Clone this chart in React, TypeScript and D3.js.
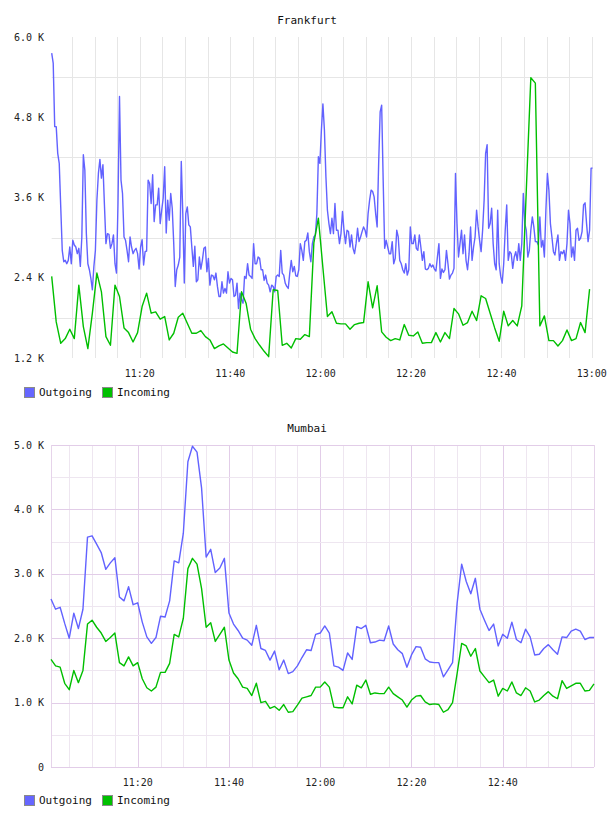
import React from 'react';
import * as d3 from 'd3';

const W = 608;
const H = 816;

const day = (h: number, m: number, s = 0) => new Date(2000, 0, 1, h, m, s);

// Frankfurt traffic, thousands. Outgoing sampled every 20 s, incoming every 60 s
const frankfurtStart = day(11, 0, 30);
const frankfurtEnd = day(13, 0, 10);
const frankfurtOutgoing = [
  5.76, 5.61, 4.66, 4.66, 4.26, 4.11, 3.46, 2.81, 2.64, 2.66,
  2.61, 2.66, 2.86, 2.61, 2.96, 2.89, 2.86, 2.76, 2.84, 2.57,
  3.01, 4.24, 4.01, 3.06, 2.61, 2.52, 2.39, 2.22, 2.57, 2.81,
  3.56, 3.96, 4.17, 3.89, 4.09, 3.49, 2.91, 3.06, 3.05, 2.84,
  2.91, 3.04, 2.61, 2.47, 3.51, 5.11, 3.86, 3.66, 3.01, 2.96,
  2.81, 2.64, 3.01, 2.86, 2.76, 2.81, 2.84, 2.76, 2.53, 2.86,
  2.97, 2.59, 2.79, 2.80, 3.86, 3.81, 3.51, 3.94, 3.24, 3.49,
  3.49, 3.74, 3.21, 3.41, 3.59, 4.06, 3.07, 3.56, 3.26, 3.66,
  3.44, 2.91, 2.27, 2.52, 2.59, 2.71, 4.14, 3.36, 2.32, 3.36,
  3.46, 3.19, 3.16, 2.86, 2.57, 2.87, 2.34, 2.37, 2.71, 2.53,
  2.66, 2.84, 2.86, 2.49, 2.69, 2.29, 2.44, 2.43, 2.37, 2.47,
  2.27, 2.12, 2.12, 2.34, 2.17, 2.24, 2.17, 2.49, 2.32, 2.39,
  2.37, 2.12, 2.14, 2.32, 1.94, 2.17, 2.07, 2.02, 2.42, 2.39,
  2.61, 2.44, 2.42, 2.39, 2.91, 2.61, 2.61, 2.71, 2.69, 2.52,
  2.52, 2.36, 2.44, 2.32, 2.29, 2.19, 2.29, 2.27, 2.19, 2.42,
  2.44, 2.42, 2.81, 2.47, 2.44, 2.32, 2.27, 2.24, 2.47, 2.66,
  2.49, 2.57, 2.43, 2.42, 2.52, 2.91, 2.81, 2.66, 2.94, 2.96,
  3.07, 2.79, 2.64, 2.91, 3.01, 3.04, 3.36, 4.21, 4.11, 4.61,
  5.00, 4.61, 3.91,
  3.41, 3.21, 3.06, 3.29, 3.06, 3.51, 3.11, 3.11, 2.91, 3.06,
  3.39, 3.11, 2.91, 3.11, 3.09, 2.86, 3.04, 2.84, 2.76, 2.91,
  3.14, 2.94, 3.01, 3.09, 3.16, 3.11, 3.01, 3.36, 3.56, 3.71,
  3.69, 3.61, 3.36, 3.16, 4.11, 4.88, 4.98, 3.86, 2.84, 2.96,
  2.86, 2.76, 2.76, 2.94, 2.61, 2.69, 3.11, 3.01, 2.66, 2.61,
  2.52, 2.47, 2.61, 2.44, 2.52, 3.16, 2.91, 2.91, 3.04, 2.84,
  2.81, 3.04, 2.86, 2.66, 2.79, 2.53, 2.52, 2.54, 2.61, 2.56,
  2.59, 2.53, 2.50, 2.71, 2.91, 2.39, 2.53, 2.48, 2.52, 2.81,
  2.61, 2.38, 2.44, 2.47, 2.54, 3.96, 3.21, 2.71, 2.91, 3.11,
  2.76, 3.04, 2.66, 2.52, 2.76, 3.16, 2.66, 2.86, 3.01, 3.41,
  3.16, 2.96, 2.79, 3.11, 3.56, 4.26, 4.39, 3.14, 3.21, 3.44,
  2.91, 2.61, 2.52, 3.41, 2.61, 2.42, 2.32, 2.61, 3.11, 3.49,
  2.66, 2.79, 2.76, 2.54, 2.71, 2.79, 2.66, 2.91, 2.66, 2.91,
  3.66, 3.21, 3.11, 2.71, 2.81, 3.11, 3.31, 3.16, 2.94, 2.94,
  2.89, 3.31, 2.86, 2.96, 2.71, 3.41, 3.96, 3.71, 3.21, 3.01,
  2.79, 2.74, 2.91, 3.04, 2.66, 2.79, 2.76, 2.81, 2.66, 2.91,
  3.41, 3.21, 2.71, 2.86, 2.66, 3.11, 3.14, 2.96, 2.99, 3.09,
  3.49, 3.52, 3.21, 2.94, 3.11, 4.04, 4.04,
];
const frankfurtIncoming = [
  2.42, 1.74, 1.42, 1.49, 1.63, 1.49, 2.29, 1.67, 1.34, 1.87,
  2.47, 2.19, 1.52, 1.39, 2.29, 2.12, 1.65, 1.58, 1.44, 1.58,
  1.97, 2.17, 1.87, 1.89, 1.78, 1.82, 1.47, 1.57, 1.81, 1.87,
  1.72, 1.57, 1.57, 1.61, 1.52, 1.47, 1.34, 1.38, 1.41, 1.35,
  1.29, 1.27, 2.19, 2.02, 1.63, 1.49, 1.39, 1.30, 1.22, 2.22,
  2.21, 1.39, 1.42, 1.35, 1.49, 1.48, 1.55, 1.52, 2.92, 3.29,
  2.55, 1.82, 1.89, 1.72, 1.71, 1.71, 1.63, 1.70, 1.72, 1.73,
  2.34, 1.95, 2.28, 1.59, 1.51, 1.46, 1.49, 1.47, 1.70, 1.54,
  1.53, 1.59, 1.42, 1.43, 1.43, 1.58, 1.44, 1.58, 1.49, 1.94,
  1.86, 1.69, 1.73, 1.90, 1.76, 2.13, 2.09, 1.87, 1.65, 1.45,
  1.90, 1.68, 1.76, 1.68, 1.98, 3.71, 5.39, 5.31, 1.68, 1.83,
  1.46, 1.46, 1.38, 1.46, 1.62, 1.46, 1.49, 1.73, 1.58, 2.23,
];
const frankfurtTicks = [1.2, 2.4, 3.6, 4.8, 6.0];
const frankfurtGrid = [1.8, 3.0, 4.2, 5.4];

// Mumbai traffic, thousands, one sample a minute
const mumbaiStart = day(11, 1);
const mumbaiEnd = day(13, 0);
const mumbaiOutgoing = [
  2.61, 2.45, 2.48, 2.23, 2.00, 2.39, 2.15, 2.45, 3.57, 3.59,
  3.46, 3.33, 3.07, 3.17, 3.25, 2.64, 2.58, 2.80, 2.52, 2.55,
  2.25, 2.02, 1.92, 2.01, 2.34, 2.33, 2.58, 3.20, 3.17, 3.63,
  4.74, 4.98, 4.89, 4.33, 3.26, 3.38, 3.02, 3.09, 3.24, 2.39,
  2.22, 2.12, 2.00, 1.97, 1.89, 2.20, 1.84, 1.81, 1.66, 1.80,
  1.51, 1.66, 1.45, 1.48, 1.57, 1.70, 1.82, 1.81, 2.06, 2.08,
  2.19, 2.08, 1.57, 1.55, 1.50, 1.77, 1.67, 2.18, 2.15, 2.20,
  1.93, 1.94, 1.97, 1.96, 2.19, 1.91, 1.82, 1.76, 1.55, 1.74,
  1.87, 1.86, 1.68, 1.63, 1.62, 1.62, 1.40, 1.51, 1.62, 2.54,
  3.15, 2.88, 2.69, 2.93, 2.45, 2.28, 2.12, 2.22, 1.88, 2.06,
  2.00, 2.25, 1.98, 1.93, 2.14, 2.02, 1.74, 1.75, 1.84, 1.90,
  1.82, 1.75, 2.02, 2.01, 2.11, 2.14, 2.11, 1.98, 2.01, 2.01,
];
const mumbaiIncoming = [
  1.67, 1.57, 1.55, 1.30, 1.20, 1.50, 1.31, 1.50, 2.22, 2.28,
  2.17, 2.08, 1.95, 2.01, 2.08, 1.62, 1.57, 1.71, 1.57, 1.62,
  1.37, 1.23, 1.18, 1.24, 1.47, 1.47, 1.61, 2.06, 2.02, 2.31,
  3.08, 3.24, 3.15, 2.77, 2.17, 2.24, 1.95, 2.06, 2.17, 1.66,
  1.46, 1.37, 1.24, 1.22, 1.11, 1.30, 1.00, 1.02, 0.91, 0.94,
  0.88, 0.97, 0.85, 0.86, 0.96, 1.07, 1.09, 1.11, 1.24, 1.24,
  1.32, 1.24, 0.93, 0.92, 0.92, 1.09, 0.98, 1.27, 1.23, 1.35,
  1.13, 1.15, 1.14, 1.14, 1.24, 1.14, 1.09, 1.04, 0.93, 1.04,
  1.10, 1.11, 1.01, 0.97, 0.98, 0.97, 0.85, 0.89, 1.00, 1.45,
  1.92, 1.88, 1.72, 1.84, 1.49, 1.40, 1.31, 1.35, 1.10, 1.22,
  1.18, 1.32, 1.15, 1.11, 1.23, 1.18, 1.01, 1.04, 1.11, 1.17,
  1.10, 1.06, 1.34, 1.22, 1.26, 1.30, 1.30, 1.18, 1.19, 1.29,
];
const mumbaiTicks = [0, 1, 2, 3, 4, 5];
const mumbaiGrid = [0.5, 1.5, 2.5, 3.5, 4.5];

const seriesNames = ['Outgoing', 'Incoming'];
const lineColors = ['#6262ff', '#00bf00'];
const swatchColors = ['#6666ff', '#00c000'];

const MONO = '"DejaVu Sans Mono", monospace';

type Pt = { t: Date; v: number };
const toPoints = (values: number[], start: Date, stepSec: number): Pt[] =>
  values.map((v, i) => ({ t: d3.timeSecond.offset(start, i * stepSec), v }));

interface PanelProps {
  title: string;
  titleY: number;
  box: { x0: number; x1: number; y0: number; y1: number };
  start: Date;
  end: Date;
  yDomain: [number, number];
  ticks: number[];
  grid: number[];
  series: Pt[][];
  legendY: number;
  mumbaiStyle?: boolean;
}

const fmt = (v: number) => (v === 0 ? '0' : `${v.toFixed(1)} K`);

const Panel: React.FC<PanelProps> = ({ title, titleY, box, start, end, yDomain, ticks, grid, series, legendY, mumbaiStyle }) => {
  const x = d3.scaleTime().domain([start, end]).range([box.x0, box.x1]);
  const y = d3.scaleLinear().domain(yDomain).range([box.y1, box.y0]);
  const line = d3.line<Pt>().x(d => x(d.t)).y(d => y(d.v));

  // every 5 minutes, skipping anything sitting on the plot edge
  const fiveMin = d3.timeMinute.every(5)!.range(start, end).filter(t => t > start);
  const labelled = fiveMin.filter(t => t.getMinutes() % 20 === 0);
  const timeFmt = d3.timeFormat('%H:%M');

  const minorV = mumbaiStyle ? '#eee6f0' : '#e6e6e6';
  const majorV = mumbaiStyle ? '#e2cde8' : '#e6e6e6';
  const minorH = mumbaiStyle ? '#eee6f0' : '#e6e6e6';
  const majorH = '#e2cde8';
  const snap = (v: number) => Math.round(v) + 0.5;

  return (
    <g>
      <text x={307} y={titleY} textAnchor="middle" fontFamily={MONO} fontSize={11} fill="#111">{title}</text>

      {fiveMin.map(t => {
        const major = t.getMinutes() % 20 === 0;
        return (
          <line key={+t} x1={snap(x(t))} x2={snap(x(t))} y1={box.y0} y2={box.y1}
            stroke={major ? majorV : minorV} strokeWidth={1} />
        );
      })}
      {grid.map(v => (
        <line key={'g' + v} x1={box.x0} x2={box.x1} y1={snap(y(v))} y2={snap(y(v))} stroke={minorH} strokeWidth={1} />
      ))}
      {mumbaiStyle && ticks.map(v => (
        <line key={'m' + v} x1={box.x0} x2={box.x1} y1={snap(y(v))} y2={snap(y(v))} stroke={majorH} strokeWidth={1} />
      ))}
      {mumbaiStyle && (
        <g stroke="#e6d4ea" strokeWidth={1}>
          <line x1={snap(box.x0)} x2={snap(box.x0)} y1={box.y0} y2={box.y1} />
          <line x1={snap(box.x1)} x2={snap(box.x1)} y1={box.y0} y2={box.y1} />
        </g>
      )}

      {series.map((pts, i) => (
        <path key={i} d={line(pts) ?? ''} fill="none" stroke={lineColors[i]} strokeWidth={1.4} strokeLinejoin="round" />
      ))}

      {ticks.map(v => (
        <text key={'y' + v} x={44} y={y(v)} dy="0.35em" textAnchor="end" fontFamily={MONO} fontSize={10} fill="#222">{fmt(v)}</text>
      ))}
      {labelled.map(t => (
        <text key={'x' + +t} x={x(t)} y={box.y1 + 15} dy="0.35em" textAnchor="middle" fontFamily={MONO} fontSize={10} fill="#222">{timeFmt(t)}</text>
      ))}

      {seriesNames.map((name, i) => (
        <g key={name} transform={`translate(${24 + i * 78},${legendY})`}>
          <rect x={0.5} y={0.5} width={10} height={10} fill={swatchColors[i]} stroke="#8a8a8a" strokeWidth={1} />
          <text x={15} y={5.5} dy="0.35em" fontFamily={MONO} fontSize={11} fill="#111">{name}</text>
        </g>
      ))}
    </g>
  );
};

export default function App() {
  const fOut = toPoints(frankfurtOutgoing, frankfurtStart, 20);
  const fIn = toPoints(frankfurtIncoming, frankfurtStart, 60);
  const mOut = toPoints(mumbaiOutgoing, mumbaiStart, 60);
  const mIn = toPoints(mumbaiIncoming, mumbaiStart, 60);

  return (
    <div style={{ position: 'absolute', left: 0, top: 0 }}>
      <svg width={W} height={H} style={{ display: 'block', background: '#fff' }}>
        <Panel title="Frankfurt" titleY={24} box={{ x0: 51.7, x1: 592.6, y0: 37, y1: 358 }}
          start={frankfurtStart} end={frankfurtEnd} yDomain={[1.2, 6.0]}
          ticks={frankfurtTicks} grid={frankfurtGrid} series={[fOut, fIn]} legendY={387} />
        <Panel title="Mumbai" titleY={432} box={{ x0: 51, x1: 594, y0: 445, y1: 767 }}
          start={mumbaiStart} end={mumbaiEnd} yDomain={[0, 5.0]}
          ticks={mumbaiTicks} grid={mumbaiGrid} series={[mOut, mIn]} legendY={795} mumbaiStyle />
      </svg>
    </div>
  );
}
